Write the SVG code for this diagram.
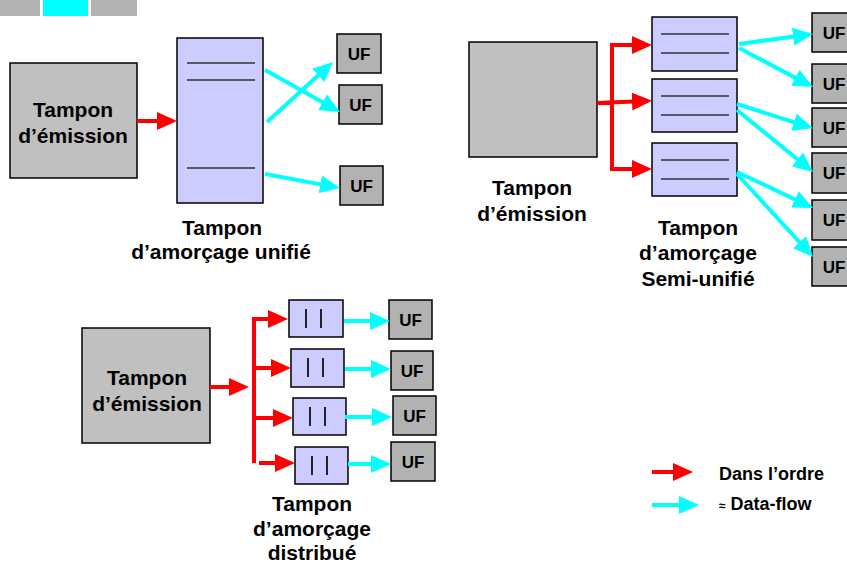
<svg xmlns="http://www.w3.org/2000/svg" width="847" height="563" viewBox="0 0 847 563">
<style>
.big{fill:#c0c0c0;stroke:#000;stroke-width:1.5}
.uf{fill:#b2b2b2;stroke:#000;stroke-width:1.5}
.buf{fill:#ccccff;stroke:#000;stroke-width:1.5}
.ln{stroke:#333;stroke-width:1.3;fill:none}
.vl{stroke:#111;stroke-width:1.8;fill:none}
.t{font-family:"Liberation Sans",Arial,sans-serif;font-weight:bold;fill:#000;text-anchor:middle}
.lbl{font-size:21px}
.uft{font-size:17px}
.leg{font-family:"Liberation Sans",Arial,sans-serif;font-weight:bold;fill:#000;font-size:18px}
.r{stroke:#ff0000;stroke-width:4;fill:none;marker-end:url(#ar)}
.c{stroke:#00ffff;stroke-width:4;fill:none;marker-end:url(#ac)}
</style>
<defs>
<marker id="ar" viewBox="0 0 20 18" refX="14" refY="9" markerWidth="20" markerHeight="18" markerUnits="userSpaceOnUse" orient="auto"><path d="M0,0 L20,9 L0,18 z" fill="#ff0000"/></marker>
<marker id="ac" viewBox="0 0 20 18" refX="14" refY="9" markerWidth="20" markerHeight="18" markerUnits="userSpaceOnUse" orient="auto"><path d="M0,0 L20,9 L0,18 z" fill="#00ffff"/></marker>
</defs>

<g id="topbars">
<rect x="0" y="0" width="40" height="16" fill="#b2b2b2"/>
<rect x="43" y="0" width="45" height="16" fill="#00ffff"/>
<rect x="91" y="0" width="46" height="16" fill="#b2b2b2"/>
</g>

<!-- Diagram 1: unified -->
<g id="emit1"><rect class="big" x="10" y="63" width="127" height="115"/>
<text class="t lbl" x="73" y="117">Tampon</text><text class="t lbl" x="73" y="143">d’émission</text></g>
<g id="buf1"><rect class="buf" x="177" y="38" width="86" height="165"/>
<path class="ln" d="M187,63H255M187,80H255M187,168H255"/></g>
<g id="label1"><text class="t lbl" x="222" y="235">Tampon</text><text class="t lbl" x="221" y="259">d’amorçage unifié</text></g>
<g id="uf1a"><rect class="uf" x="337" y="34" width="44" height="39"/><text class="t uft" x="359" y="60">UF</text></g>
<g id="uf1b"><rect class="uf" x="339" y="85" width="43" height="39"/><text class="t uft" x="360.5" y="111">UF</text></g>
<g id="uf1c"><rect class="uf" x="340" y="166" width="43" height="39"/><text class="t uft" x="361.5" y="192">UF</text></g>

<!-- Diagram 2: semi-unified -->
<g id="emit2"><rect class="big" x="469" y="42" width="128" height="115"/></g>
<g id="label2a"><text class="t lbl" x="532" y="195">Tampon</text><text class="t lbl" x="532" y="221">d’émission</text></g>
<g id="buf2a"><rect class="buf" x="652" y="17" width="85" height="54"/><path class="ln" d="M661,34H729M661,53H729"/></g>
<g id="buf2b"><rect class="buf" x="652" y="79" width="85" height="53"/><path class="ln" d="M661,96H729M661,115H729"/></g>
<g id="buf2c"><rect class="buf" x="652" y="143" width="85" height="53"/><path class="ln" d="M661,160H729M661,179H729"/></g>
<g id="label2b"><text class="t lbl" x="698" y="235">Tampon</text><text class="t lbl" x="698" y="260">d’amorçage</text><text class="t lbl" x="698" y="286">Semi-unifié</text></g>
<g id="uf2a"><rect class="uf" x="812" y="13" width="48" height="39"/><text class="t uft" x="834" y="39">UF</text></g>
<g id="uf2b"><rect class="uf" x="812" y="64" width="48" height="39"/><text class="t uft" x="834" y="90">UF</text></g>
<g id="uf2c"><rect class="uf" x="812" y="108" width="48" height="39"/><text class="t uft" x="834" y="134">UF</text></g>
<g id="uf2d"><rect class="uf" x="812" y="153" width="48" height="40"/><text class="t uft" x="834" y="179">UF</text></g>
<g id="uf2e"><rect class="uf" x="812" y="200" width="48" height="40"/><text class="t uft" x="834" y="226">UF</text></g>
<g id="uf2f"><rect class="uf" x="812" y="247" width="48" height="39"/><text class="t uft" x="834" y="273">UF</text></g>

<!-- Diagram 3: distributed -->
<g id="emit3"><rect class="big" x="82" y="328" width="128" height="115"/>
<text class="t lbl" x="147" y="385">Tampon</text><text class="t lbl" x="147" y="411">d’émission</text></g>
<g id="buf3a"><rect class="buf" x="289" y="300" width="54" height="37"/><path class="vl" d="M306,309V328M321,309V328"/></g>
<g id="buf3b"><rect class="buf" x="291" y="349" width="53" height="38"/><path class="vl" d="M308,358V377M323,358V377"/></g>
<g id="buf3c"><rect class="buf" x="293" y="398" width="53" height="37"/><path class="vl" d="M310,407V426M325,407V426"/></g>
<g id="buf3d"><rect class="buf" x="295" y="447" width="53" height="37"/><path class="vl" d="M312,456V475M327,456V475"/></g>
<g id="label3"><text class="t lbl" x="312" y="511">Tampon</text><text class="t lbl" x="312" y="536">d’amorçage</text><text class="t lbl" x="312" y="560">distribué</text></g>
<g id="uf3a"><rect class="uf" x="389" y="300" width="43" height="39"/><text class="t uft" x="410.5" y="326">UF</text></g>
<g id="uf3b"><rect class="uf" x="391" y="351" width="42" height="39"/><text class="t uft" x="412" y="377">UF</text></g>
<g id="uf3c"><rect class="uf" x="393" y="396" width="43" height="39"/><text class="t uft" x="414.5" y="422">UF</text></g>
<g id="uf3d"><rect class="uf" x="391" y="442" width="44" height="39"/><text class="t uft" x="413" y="468">UF</text></g>

<!-- Legend -->
<g id="legend">
<text class="leg" x="719" y="480">Dans l’ordre</text>
<text class="leg" x="719" y="510"><tspan font-size="12">≈</tspan> Data-flow</text>
</g>

<g id="connectors">
<path class="r" d="M137,121H171"/>
<path class="c" d="M265,70L334.8,109.1"/>
<path class="c" d="M267,122L328.6,66"/>
<path class="c" d="M265,174L334.1,186.9"/>

<path d="M597,103H612M612,45V170" stroke="#ff0000" stroke-width="4" fill="none"/>
<path class="r" d="M610,45H646"/>
<path class="r" d="M597,103L646,101"/>
<path class="r" d="M610,169H646"/>
<path class="c" d="M739,44L807,34.8"/>
<path class="c" d="M739,48L807.7,84.2"/>
<path class="c" d="M737,104L807.3,126.5"/>
<path class="c" d="M737,110L808.4,168.3"/>
<path class="c" d="M737,172L807.6,205.4"/>
<path class="c" d="M737,174L809,252.5"/>

<path class="r" d="M210,387H243"/>
<path class="r" d="M254,463V319H282"/>
<path class="r" d="M254,368H285"/>
<path class="r" d="M254,418H287"/>
<path class="r" d="M259,463H289"/>
<path class="c" d="M344,321H384"/>
<path class="c" d="M345,369H385"/>
<path class="c" d="M345,417H386"/>
<path class="c" d="M348,464H385"/>

<path class="r" d="M652,472H687"/>
<path class="c" d="M652,505H693"/>
</g>
</svg>
